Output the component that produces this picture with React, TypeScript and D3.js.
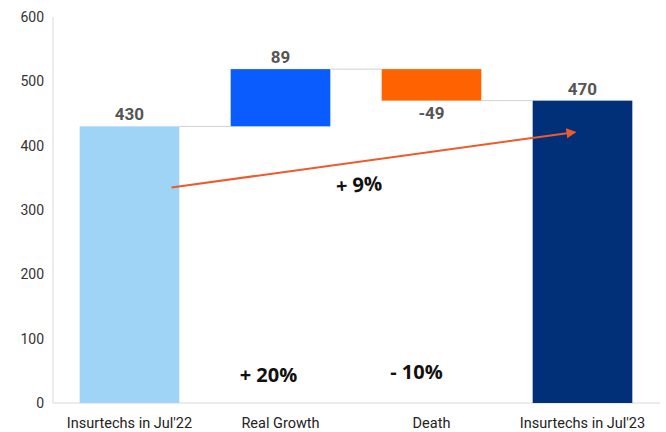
import React from "react";
import * as d3 from "d3";

const categories = ["Insurtechs in Jul'22", "Real Growth", "Death", "Insurtechs in Jul'23"];
const startValues = [0, 430, 519, 0];
const endValues = [430, 519, 470, 470];
const valueLabels = ["430", "89", "-49", "470"];
const barColors = ["#9fd4f6", "#0a5cff", "#ff6200", "#012f78"];
const yTicks = [0, 100, 200, 300, 400, 500, 600];
const arrowFrom = { cat: 0, value: 335 };
const arrowTo = { cat: 3, value: 421 };
const annotations = [
  { text: "+ 9%", cat: 1.52, value: 339, rot: -4 },
  { text: "+ 20%", cat: 0.92, value: 43.5, rot: 0 },
  { text: "- 10%", cat: 1.9, value: 48, rot: 0 },
];

export default function App() {
  const W = 666, H = 432;
  const x = d3.scaleBand<string>().domain(categories).range([54, 658]).paddingInner(0.34).paddingOuter(0.17);
  const y = d3.scaleLinear().domain([0, 600]).range([403, 17]);
  const bw = x.bandwidth();
  const cx = (i: number) => {
    const k = Math.min(Math.floor(i), categories.length - 1);
    return (x(categories[k]) as number) + bw / 2 + (i - k) * x.step();
  };

  return (
    <svg width={W} height={H} style={{ position: "absolute", left: 0, top: 0, background: "#fff" }}>
      <defs>
        <marker id="ah" viewBox="0 0 10 10" refX="8" refY="5" markerWidth="5" markerHeight="5" orient="auto">
          <path d="M0,0 L10,5 L0,10 z" fill="#ee5a2a" />
        </marker>
      </defs>
      <line x1={53} x2={53} y1={y(600)} y2={y(0)} stroke="#d9d9d9" strokeWidth={1} />
      <line x1={53} x2={660} y1={y(0)} y2={y(0)} stroke="#d9d9d9" strokeWidth={1} />
      {yTicks.map((t) => (
        <text key={t} x={44} y={y(t)} dy="0.35em" textAnchor="end" fontFamily="Roboto" fontSize={14} fill="#333">{t}</text>
      ))}
      {categories.map((c, i) => {
        const top = Math.max(startValues[i], endValues[i]);
        const bot = Math.min(startValues[i], endValues[i]);
        return (
          <rect key={c} x={x(c)} y={y(top)} width={bw} height={y(bot) - y(top)} fill={barColors[i]} />
        );
      })}
      {categories.slice(0, -1).map((c, i) => (
        <line key={"c" + i} x1={(x(c) as number) + bw} x2={x(categories[i + 1]) as number}
          y1={y(endValues[i])} y2={y(endValues[i])} stroke="#d0d0d0" strokeWidth={1} />
      ))}
      {categories.map((c, i) => {
        const neg = endValues[i] < startValues[i];
        const ly = neg ? y(Math.min(startValues[i], endValues[i])) + 12 : y(Math.max(startValues[i], endValues[i])) - 12;
        return (
          <text key={"l" + i} x={cx(i)} y={ly} dy="0.35em" textAnchor="middle" fontFamily="Roboto" fontWeight="bold" fontSize={17} fill="#555">{valueLabels[i]}</text>
        );
      })}
      {categories.map((c, i) => (
        <text key={"x" + i} x={cx(i)} y={423} dy="0.35em" textAnchor="middle" fontFamily="Roboto" fontSize={14.5} fill="#222">{c}</text>
      ))}
      <line x1={cx(arrowFrom.cat) + 42} y1={y(arrowFrom.value)} x2={cx(arrowTo.cat) - 8} y2={y(arrowTo.value)}
        stroke="#ee5a2a" strokeWidth={2} markerEnd="url(#ah)" />
      {annotations.map((a) => (
        <text key={a.text} x={cx(a.cat)} y={y(a.value)} dy="0.35em" textAnchor="middle"
          transform={`rotate(${a.rot} ${cx(a.cat)} ${y(a.value)})`}
          fontFamily="Open Sans" fontWeight="bold" fontSize={20} fill="#111">{a.text}</text>
      ))}
    </svg>
  );
}
